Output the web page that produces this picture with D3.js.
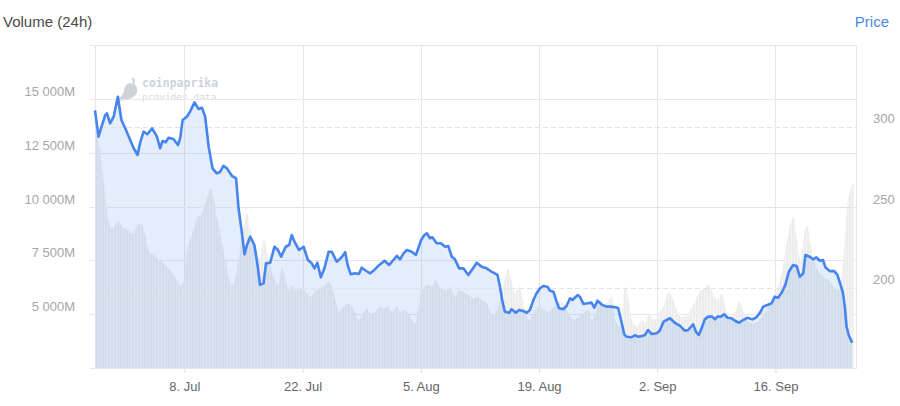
<!DOCTYPE html>
<html><head><meta charset="utf-8">
<script src="https://cdn.jsdelivr.net/npm/d3@7"></script>
<style>body{margin:0;background:#fff}svg{display:block;font-family:"Liberation Sans",Arial,sans-serif}</style>
</head><body><svg id="c" width="900" height="406"></svg>
<script>
// ---- data (2019) ----
const priceTimes = ["06-27 10","06-27 20","06-28 06","06-28 15","06-28 20","06-29 05","06-29 15","06-30 03","06-30 13","07-01 00","07-01 14","07-02 00","07-02 11","07-02 18","07-03 04","07-03 15","07-04 04","07-04 18","07-05 03","07-05 10","07-05 19","07-06 03","07-06 17","07-07 06","07-07 12","07-07 19","07-08 07","07-08 16","07-09 05","07-09 16","07-10 02","07-10 11","07-10 21","07-11 08","07-11 20","07-12 06","07-12 15","07-13 01","07-13 15","07-14 03","07-14 10","07-14 19","07-15 03","07-15 10","07-15 19","07-16 07","07-16 16","07-16 23","07-17 09","07-17 16","07-18 04","07-18 16","07-19 02","07-19 11","07-20 00","07-20 10","07-20 17","07-21 03","07-21 14","07-22 03","07-22 15","07-23 02","07-23 10","07-23 18","07-24 04","07-24 14","07-25 02","07-25 11","07-26 01","07-26 15","07-27 01","07-27 08","07-27 17","07-28 05","07-28 16","07-29 00","07-29 12","07-30 00","07-30 12","07-31 02","07-31 17","08-01 06","08-01 18","08-02 04","08-02 13","08-02 23","08-03 08","08-03 22","08-04 10","08-05 01","08-05 10","08-05 17","08-06 02","08-06 09","08-06 21","08-07 09","08-07 21","08-08 06","08-08 16","08-09 01","08-09 13","08-10 01","08-10 15","08-11 01","08-11 15","08-12 05","08-12 19","08-13 09","08-14 02","08-14 09","08-14 16","08-14 23","08-15 11","08-15 18","08-16 06","08-16 15","08-17 03","08-17 13","08-17 22","08-18 08","08-18 17","08-19 03","08-19 12","08-20 00","08-20 07","08-20 17","08-21 02","08-21 09","08-21 21","08-22 06","08-22 16","08-22 23","08-23 14","08-23 20","08-24 06","08-24 18","08-25 05","08-25 13","08-25 22","08-26 12","08-27 00","08-27 12","08-28 02","08-28 09","08-28 17","08-29 02","08-29 09","08-29 23","08-30 08","08-30 18","08-31 05","08-31 13","08-31 22","09-01 08","09-01 22","09-02 07","09-02 18","09-03 12","09-04 02","09-04 16","09-05 06","09-05 16","09-06 06","09-06 14","09-06 22","09-07 06","09-07 15","09-08 01","09-08 12","09-08 20","09-09 03","09-09 13","09-09 22","09-10 08","09-10 19","09-11 06","09-11 16","09-12 04","09-12 16","09-13 06","09-13 18","09-14 06","09-14 13","09-15 01","09-15 13","09-15 22","09-16 08","09-16 19","09-17 04","09-17 14","09-18 02","09-18 12","09-18 21","09-19 07","09-19 13","09-20 01","09-20 11","09-20 20","09-21 06","09-21 15","09-21 22","09-22 10","09-22 23","09-23 08","09-23 17","09-24 00","09-24 05","09-24 10","09-24 16","09-25 02"];
const priceValues = [310,293.7,300.9,307.1,308.2,302,306.1,318.5,304,298.9,291.6,286.5,282.3,289.6,296.8,295.2,298.9,293.7,286.5,291,290.2,293,292.2,288.5,292.7,304,306.1,309.2,315,310.9,311.7,306.1,287.5,274,270.9,271.9,275.5,274,269.4,267.8,249.2,234.7,220.6,226.4,231.6,226.4,214,201.6,202.6,215,215.4,225.3,223.3,219.1,225.3,226.4,232.6,227.5,223.3,225.3,217.1,215,211.9,215.4,206.3,211.9,222.2,222.2,216,218.8,221.9,214,208.2,208.8,208.4,212.3,210.4,208.8,210.9,214,216.6,214,217.1,219.6,217.5,221.2,223.3,222.2,220.2,229.5,232.6,233.7,230.6,231.2,227.5,227.5,225.3,225.8,219.1,217.5,211.9,211.9,207.8,210.9,215.4,212.9,211.9,209.8,207.8,200.5,191.2,185,184.3,186.5,184.3,186,185.4,184.3,186,192.2,196.4,199.5,200.9,200.5,198,197.4,191.2,187.1,186.5,188.5,193.3,192.2,195.3,194.3,189.8,190.2,190.6,187.5,191.8,189.1,188.1,188.1,187.7,187.1,179.8,171.1,169.4,169.1,170.3,169.4,169.9,170.5,173.6,171.1,171.6,173.2,178.8,180.9,178.1,176.3,173.2,173.6,177.1,172.5,170.5,174.7,180.2,181.9,181.9,180.2,181.9,181.9,183.4,181.2,180.9,179.2,178.1,179.8,181.2,180.2,181.5,185,188.1,189.1,190.2,194.3,193.7,197.4,201.6,209.8,214,213.4,206.7,208.8,220.2,219.1,217.5,218.8,216.6,217.1,212.5,210.2,210.2,207.8,201.6,196.4,188.1,175.7,170.5,165.7];

const volumeTimes = ["06-27 10","06-27 16","06-28 01","06-28 11","06-28 20","06-29 10","06-29 20","06-30 05","06-30 15","07-01 00","07-01 14","07-02 00","07-02 09","07-02 19","07-03 04","07-03 14","07-03 23","07-04 09","07-04 18","07-05 08","07-05 23","07-06 13","07-07 03","07-07 12","07-07 22","07-08 07","07-08 22","07-09 12","07-10 02","07-10 16","07-11 02","07-11 11","07-11 21","07-12 11","07-13 01","07-13 15","07-14 01","07-14 10","07-15 01","07-15 10","07-15 19","07-16 10","07-17 00","07-17 09","07-17 19","07-18 09","07-19 04","07-19 13","07-19 23","07-20 08","07-20 18","07-21 08","07-21 22","07-22 13","07-22 22","07-23 08","07-23 22","07-24 12","07-25 02","07-25 12","07-25 21","07-26 07","07-26 21","07-27 11","07-27 20","07-28 06","07-28 15","07-29 06","07-29 15","07-30 00","07-30 15","07-31 05","07-31 15","08-01 03","08-01 14","08-02 04","08-02 14","08-03 04","08-03 18","08-04 08","08-04 18","08-05 03","08-05 18","08-06 08","08-06 17","08-07 07","08-07 22","08-08 12","08-09 02","08-09 12","08-10 02","08-10 16","08-11 06","08-11 16","08-12 06","08-12 20","08-13 10","08-14 01","08-14 15","08-15 00","08-15 08","08-15 17","08-16 03","08-16 14","08-17 00","08-17 09","08-17 19","08-18 09","08-18 23","08-19 13","08-20 03","08-20 18","08-21 08","08-21 22","08-22 12","08-23 03","08-23 17","08-24 07","08-24 21","08-25 07","08-25 16","08-26 06","08-26 16","08-27 06","08-27 15","08-28 01","08-28 15","08-29 05","08-29 15","08-30 00","08-30 14","08-31 05","08-31 14","09-01 00","09-01 14","09-02 04","09-02 18","09-03 09","09-03 18","09-04 08","09-04 18","09-05 03","09-05 17","09-06 08","09-06 22","09-07 12","09-08 02","09-08 12","09-09 02","09-09 16","09-10 01","09-10 16","09-11 06","09-11 16","09-12 01","09-12 15","09-13 05","09-13 20","09-14 10","09-15 00","09-15 14","09-16 04","09-16 19","09-17 09","09-17 18","09-18 04","09-18 13","09-18 23","09-19 08","09-19 18","09-20 03","09-20 13","09-21 03","09-21 17","09-22 07","09-22 22","09-23 12","09-24 02","09-24 11","09-24 21","09-25 06"];
// USD millions
const volumeValues = [13785,13320,12545,11152,9759,8988,9141,9294,9062,8988,8830,8755,9141,9220,8988,8212,7827,7748,7594,7437,7204,6898,6587,6355,6508,7901,8677,9452,9684,10381,10845,10381,9452,8365,7130,6355,6666,7594,9141,9684,8988,8059,7594,8523,7901,6972,6355,7204,6587,6122,6276,6122,6201,5969,5811,5969,6201,6308,6508,6276,5658,5115,5347,5505,5347,5040,4729,5115,5272,5040,5115,5347,5272,5347,5115,5347,5115,5194,4882,4576,5347,6122,6355,6276,6587,6201,6122,6276,5811,6122,6043,5890,5737,5811,5658,5505,4961,5194,6122,6740,7130,6587,5969,6276,5811,5040,4729,5040,5347,5194,5115,5347,5579,5505,5040,4729,4882,5040,5194,4729,5040,5658,5347,5658,5811,4729,4418,6276,5658,4729,4418,4729,4576,5040,4729,5040,5347,6043,5811,5194,4882,4882,5040,5505,5969,6201,6355,6043,5658,5969,5347,4882,5115,5579,5347,4729,4576,4650,4882,5194,5658,6122,7051,8444,9220,9526,8444,7516,8598,9141,8291,7516,6972,6740,6587,6276,6122,7827,9838,10766,11077];

const volumeTicks = [5000, 7500, 10000, 12500, 15000];
const volumeGrid = [2500, 5000, 7500, 10000, 12500, 15000, 17500];
const priceTicks = [200, 250, 300];
const xTickDates = ["07-08 00","07-22 00","08-05 00","08-19 00","09-02 00","09-16 00"];
const xTickLabels = ["8. Jul","22. Jul","5. Aug","19. Aug","2. Sep","16. Sep"];
const xDomain = ["06-27 10","09-25 10"];

// ---- chart ----
const parse = s => d3.utcParse("%Y-%m-%d %H")("2019-" + s);
const svg = d3.select("#c");
const L = 95, R = 855, T = 45, B = 368;

const x = d3.scaleUtc().domain(xDomain.map(parse)).range([L, R]);
const yVol = d3.scaleLinear().domain([2500, 17500]).range([B, T]);
const yPrice = d3.scaleLinear().domain([150, 350]).range([B, 46]);

const price = priceTimes.map((t, i) => ({t: parse(t), v: priceValues[i]}));
const volume = volumeTimes.map((t, i) => ({t: parse(t), v: volumeValues[i]}));

// stripe pattern for volume columns
const defs = svg.append("defs");
const pat = defs.append("pattern").attr("id", "vstripe").attr("patternUnits", "userSpaceOnUse")
  .attr("width", 3).attr("height", 10);
pat.append("rect").attr("width", 3).attr("height", 10).attr("fill", "#ececec");
pat.append("rect").attr("x", 2).attr("width", 1).attr("height", 10).attr("fill", "#f4f4f4");

// title texts
svg.append("text").attr("x", 3).attr("y", 27).attr("font-size", 15).attr("fill", "#4a4a4a").text("Volume (24h)");
svg.append("text").attr("x", 889).attr("y", 27).attr("font-size", 15).attr("fill", "#4a86e8")
  .attr("text-anchor", "end").text("Price");

// watermark
const wm = svg.append("g");
wm.append("path").attr("d", "M132,78 C135,79 135,82 133,84 M131,84 C137,84 138,92 134,95.5 C130,99 124,100 118,100 C123,97 124.5,93 125,89 C125.5,85.5 128,84 131,84 Z")
  .attr("fill", "#cfd3d9").attr("stroke", "#cfd3d9").attr("stroke-width", 1.5);
wm.append("text").attr("x", 142).attr("y", 87).attr("font-family", "DejaVu Sans Mono, monospace")
  .attr("font-size", 11.5).attr("font-weight", "bold").attr("fill", "#cdd2d9").text("coinpaprika");
wm.append("text").attr("x", 142).attr("y", 100).attr("font-family", "DejaVu Sans Mono, monospace")
  .attr("font-size", 9.5).attr("fill", "#d6dae0").text("provides data");

// solid gridlines (volume axis)
svg.append("g").selectAll("line").data(volumeGrid).join("line")
  .attr("x1", 90).attr("x2", 857).attr("y1", d => Math.round(yVol(d)) + 0.5).attr("y2", d => Math.round(yVol(d)) + 0.5)
  .attr("stroke", "#e6e6e6");
// vertical gridlines
svg.append("g").selectAll("line").data(xTickDates.map(parse)).join("line")
  .attr("x1", d => Math.round(x(d)) + 0.5).attr("x2", d => Math.round(x(d)) + 0.5)
  .attr("y1", T).attr("y2", B).attr("stroke", "#e6e6e6");
// borders
[L, 856].forEach(px => svg.append("line").attr("x1", px + 0.5).attr("x2", px + 0.5).attr("y1", T).attr("y2", B).attr("stroke", "#e6e6e6"));

// volume area
svg.append("path").datum(volume)
  .attr("d", d3.area().x(d => x(d.t)).y0(B).y1(d => yVol(d.v)).curve(d3.curveMonotoneX))
  .attr("fill", "url(#vstripe)");

// price area
svg.append("path").datum(price)
  .attr("d", d3.area().x(d => x(d.t)).y0(B).y1(d => yPrice(d.v)))
  .attr("fill", "#4a86e8").attr("fill-opacity", 0.15);

// dashed price gridlines
svg.append("g").selectAll("line").data(priceTicks).join("line")
  .attr("x1", L).attr("x2", 857).attr("y1", d => Math.round(yPrice(d)) + 0.5).attr("y2", d => Math.round(yPrice(d)) + 0.5)
  .attr("stroke", "#e2e2e2").attr("stroke-dasharray", "5,3");

// price line
svg.append("path").datum(price)
  .attr("d", d3.line().x(d => x(d.t)).y(d => yPrice(d.v)))
  .attr("fill", "none").attr("stroke", "#4684ee").attr("stroke-width", 2.6).attr("stroke-linejoin", "round");

// x axis
const xAxis = svg.append("g").attr("transform", `translate(0,${B})`)
  .call(d3.axisBottom(x).tickValues(xTickDates.map(parse)).tickFormat((d, i) => xTickLabels[i]).tickSize(5).tickPadding(9));
xAxis.select(".domain").remove();
xAxis.selectAll("line").attr("stroke", "#dadada");
xAxis.selectAll("text").attr("font-size", 13).attr("fill", "#666").attr("font-family", "Liberation Sans, Arial, sans-serif");
svg.append("line").attr("x1", 90).attr("x2", 857).attr("y1", B + 0.5).attr("y2", B + 0.5).attr("stroke", "#e6e6e6");

// left axis
const spaceFmt = d3.formatLocale({decimal: ".", thousands: " ", grouping: [3], currency: ["", ""]}).format(",");
const yl = svg.append("g").attr("transform", "translate(90,0)")
  .call(d3.axisLeft(yVol).tickValues(volumeTicks).tickSize(0).tickPadding(15).tickFormat(d => spaceFmt(d) + "M"));
yl.select(".domain").remove();
yl.selectAll("text").attr("dy", -3.5).attr("font-size", 13).attr("fill", "#a6a6a6").attr("font-family", "Liberation Sans, Arial, sans-serif");

// right axis
const yr = svg.append("g").attr("transform", "translate(873,0)")
  .call(d3.axisRight(yPrice).tickValues(priceTicks).tickSize(0).tickPadding(0));
yr.select(".domain").remove();
yr.selectAll("text").attr("dy", -4).attr("font-size", 13).attr("fill", "#a6a6a6").attr("font-family", "Liberation Sans, Arial, sans-serif");
</script></body></html>
